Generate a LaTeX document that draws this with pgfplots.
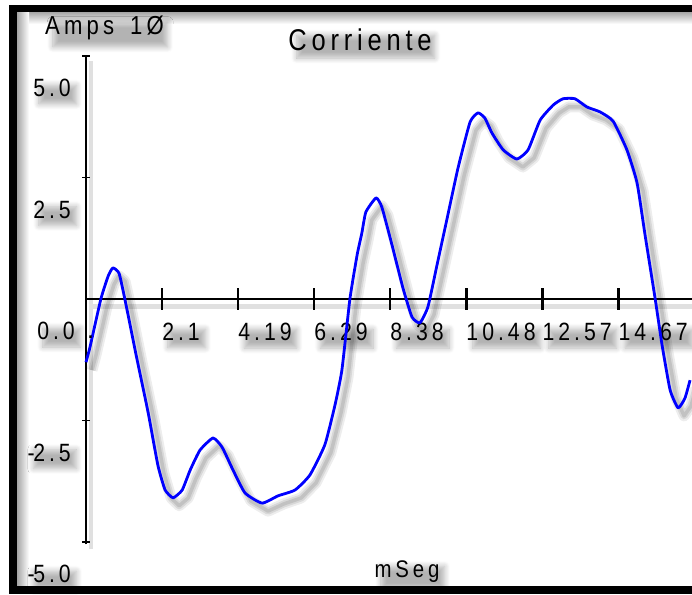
\documentclass[border=0pt]{standalone}
\usepackage{pgfplots}
\pgfplotsset{compat=1.18}
\usepackage{pgfplotstable}
\usepackage{fontspec}
\setmainfont{Liberation Sans}
\newfontfamily\lblfont[FakeStretch=0.85, LetterSpace=16]{Liberation Sans}
\usetikzlibrary{shadows.blur}

% one period of the phase current, t in ms, i in A
\pgfplotstableread{
t      i
0.00  -1.30
0.11  -0.99
0.41   0.00
0.61   0.47
0.74   0.64
0.91   0.53
1.07   0.00
1.38  -1.15
1.71  -2.33
1.98  -3.42
2.18  -3.93
2.40  -4.09
2.65  -3.93
2.87  -3.52
3.14  -3.11
3.50  -2.86
3.75  -3.05
4.05  -3.52
4.38  -3.99
4.85  -4.20
5.29  -4.05
5.76  -3.93
6.17  -3.62
6.58  -3.00
6.86  -2.18
7.05  -1.46
7.27   0.00
7.47   0.91
7.60   1.36
7.71   1.79
7.99   2.08
8.15   1.89
8.43   1.11
8.73   0.23
8.98  -0.37
9.20  -0.49
9.42  -0.16
9.67   0.70
9.94   1.63
10.25  2.70
10.58  3.64
10.80  3.83
10.99  3.72
11.18  3.42
11.49  3.07
11.87  2.88
12.18  3.07
12.51  3.68
12.87  3.99
13.14  4.12
13.47  4.12
13.80  3.95
14.16  3.85
14.52  3.66
14.90  3.07
15.18  2.39
15.40  1.32
15.68  0.00
15.87 -0.95
16.09 -1.87
16.31 -2.24
16.50 -2.04
16.64 -1.67
}\corriente

\tikzset{
  txtshadow/.style={blur shadow={shadow xshift=6pt, shadow yshift=-7pt,
      shadow blur radius=6pt, shadow blur steps=8, shadow scale=0.95, shadow opacity=30}},
}
% slightly tighter minus sign for the negative tick labels
\newcommand\tickminus{-\kern-1.5pt}

\begin{document}
\begin{tikzpicture}[x=1pt, y=1pt]
\useasboundingbox (0,0) rectangle (692,594);

% inner bevel of the frame
\shade[top color=black!35, bottom color=white] (17,570) rectangle (692,582);
\shade[left color=black!35, right color=white] (17,8) rectangle (29,582);
% heavy black frame
\fill[black] (9,0) rectangle (17,589);
\fill[black] (9,582) rectangle (692,589);
\fill[black] (9,0) rectangle (692,8);

\coordinate (O) at (86,295);

\begin{axis}[
  anchor=origin, at={(O)},
  x=36.3pt, y=48.6pt,
  xmin=0, xmax=16.69, ymin=-5.05, ymax=5.0,
  axis lines=middle,
  axis line style={-},
  x axis line style={line width=2.5pt},
  y axis line style={line width=1.2pt},
  clip=false,
  xtick={2.095,4.19,6.285,8.38,10.475,12.57,14.665},
  xticklabels={2.1,4.19,6.29,8.38,10.48,12.57,14.67},
  minor xtick={2.095,4.19,6.285,8.38,10.475,12.57,14.665},
  ytick={-5,-2.5,2.5,5},
  yticklabels={\tickminus 5.0,\tickminus 2.5,2.5,5.0},
  extra y ticks={0},
  extra y tick labels={0.0},
  extra y tick style={major tick length=0pt},
  tick align=center,
  major tick length=8pt,
  minor tick length=22pt,
  every major tick/.append style={line width=1.2pt, black},
  every minor tick/.append style={line width=2.5pt, black},
  tick label style={font=\lblfont\fontsize{25}{25}\selectfont, inner sep=1pt, txtshadow},
  xticklabel style={anchor=north west, xshift=-1pt, yshift=-19pt},
  yticklabel style={anchor=east, xshift=-10pt, yshift=-32pt},
  hide obscured y ticks=false,
]
  % soft drop shadows of the axes
  \draw[line width=5pt, black, opacity=0.12] (axis cs:0.2,-0.16) -- (axis cs:16.69,-0.16);
  \draw[line width=4pt, black, opacity=0.12] (axis cs:0.15,4.9) -- (axis cs:0.15,-5.15);
  % soft drop shadow of the curve
  \addplot[black, opacity=0.07, line width=11pt, line join=round, xshift=6pt, yshift=-8pt] table[x=t, y=i] {\corriente};
  \addplot[black, opacity=0.09, line width=7pt, line join=round, xshift=6pt, yshift=-8pt] table[x=t, y=i] {\corriente};
  \addplot[black, opacity=0.10, line width=3.5pt, line join=round, xshift=6pt, yshift=-8pt] table[x=t, y=i] {\corriente};
  % the current
  \addplot[blue, line width=2.8pt, line join=round, smooth, tension=0.3] table[x=t, y=i] {\corriente};
\end{axis}

\node[font=\lblfont\fontsize{30}{30}\selectfont, txtshadow, inner sep=1pt] at (360,554) {Corriente};
\node[font=\lblfont\fontsize{26}{26}\selectfont, txtshadow, inner sep=1pt, anchor=west] at (44,566) {Amps\hspace{16pt}1Ø};
\node[font=\lblfont\fontsize{24}{24}\selectfont, txtshadow, inner sep=1pt, anchor=base] at (407,17) {mSeg};
\node[font=\fontsize{25}{25}\selectfont, anchor=west, inner sep=0pt] at (87,257) {.};
\end{tikzpicture}
\end{document}
